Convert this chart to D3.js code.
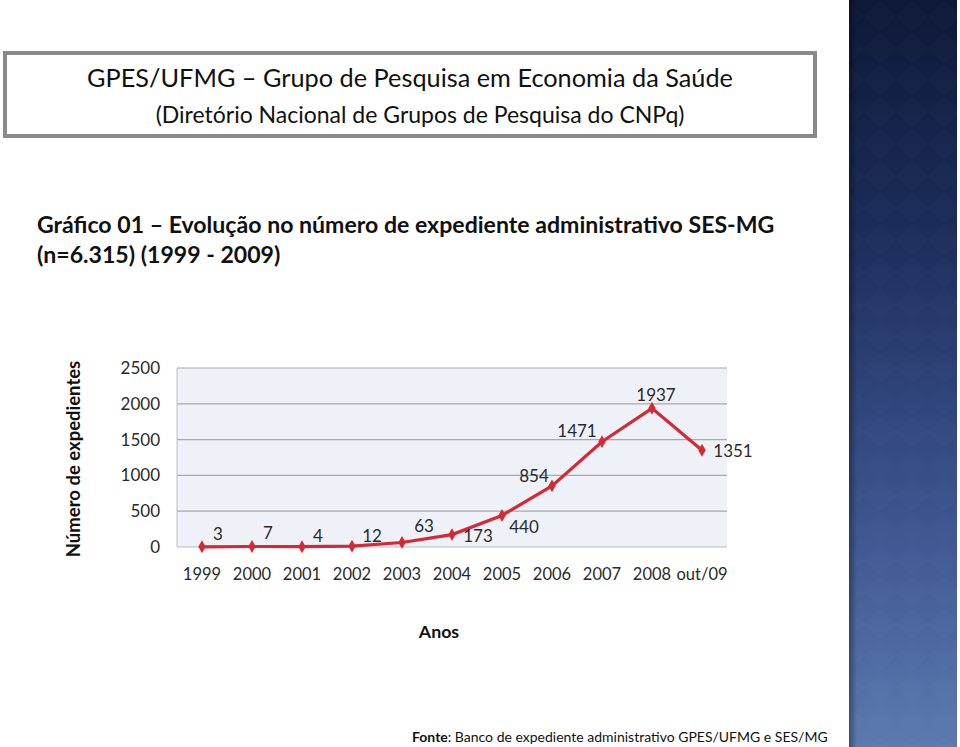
<!DOCTYPE html>
<html><head><meta charset="utf-8">
<script src="https://cdn.jsdelivr.net/npm/d3@7"></script>
<style>body{margin:0;background:#fff}svg{display:block}text{font-family:Lato,"Open Sans",sans-serif}</style>
</head><body>
<svg id="c" width="960" height="747"></svg>
<script>
const categories = ["1999","2000","2001","2002","2003","2004","2005","2006","2007","2008","out/09"];
const values = [3,7,4,12,63,173,440,854,1471,1937,1351];
const yTicks = [0,500,1000,1500,2000,2500];
// label offsets (dx, dy) relative to point
const labelOffsets = [[16,-7],[16,-7],[16,-5],[20,-4],[22,-10],[26,7],[22,18],[-18,-4],[-25,-5],[4,-7],[31,7]];

const FONT = "Lato,'Open Sans',sans-serif";
const svg = d3.select("#c");
const defs = svg.append("defs");
const g1 = defs.append("linearGradient").attr("id","band").attr("x1",0).attr("y1",0).attr("x2",0).attr("y2",1);
g1.append("stop").attr("offset","0%").attr("stop-color","#0e1838");
g1.append("stop").attr("offset","30%").attr("stop-color","#1b2c5a");
g1.append("stop").attr("offset","70%").attr("stop-color","#3d5590");
g1.append("stop").attr("offset","100%").attr("stop-color","#5b79b0");
const pat = defs.append("pattern").attr("id","dia").attr("width",32).attr("height",32).attr("patternUnits","userSpaceOnUse");
pat.append("path").attr("d","M16,0 L32,16 L16,32 L0,16 Z").attr("fill","#ffffff").attr("opacity",0.012);
const g2 = defs.append("linearGradient").attr("id","edge").attr("x1",0).attr("x2",1);
g2.append("stop").attr("offset","0%").attr("stop-color","#000").attr("stop-opacity",0.35);
g2.append("stop").attr("offset","100%").attr("stop-color","#000").attr("stop-opacity",0);

// right decorative band
svg.append("rect").attr("x",849).attr("y",0).attr("width",108).attr("height",747).attr("fill","url(#band)");
svg.append("rect").attr("x",849).attr("y",0).attr("width",108).attr("height",747).attr("fill","url(#dia)");
svg.append("rect").attr("x",849).attr("y",0).attr("width",8).attr("height",747).attr("fill","url(#edge)");

// header box
svg.append("rect").attr("x",5).attr("y",53).attr("width",810).attr("height",83)
  .attr("fill","#fff").attr("stroke","#8a8a8a").attr("stroke-width",4);
svg.append("text").attr("x",410).attr("y",87).attr("text-anchor","middle").attr("font-size",25.3).attr("fill","#111")
  .text("GPES/UFMG – Grupo de Pesquisa em Economia da Saúde");
svg.append("text").attr("x",420).attr("y",123).attr("text-anchor","middle").attr("font-size",23).attr("fill","#111")
  .text("(Diretório Nacional de Grupos de Pesquisa do CNPq)");

svg.append("text").attr("x",37).attr("y",233).attr("font-size",23.1).attr("font-weight","bold").attr("fill","#111")
  .text("Gráfico 01 – Evolução no número de expediente administrativo SES-MG");
svg.append("text").attr("x",37).attr("y",263).attr("font-size",23.1).attr("font-weight","bold").attr("fill","#111")
  .text("(n=6.315) (1999 - 2009)");

// chart
const x = d3.scaleBand().domain(categories).range([177,727]);
const y = d3.scaleLinear().domain([0,2500]).range([547,368]);
svg.append("rect").attr("x",177).attr("y",368).attr("width",550).attr("height",179).attr("fill","#eef2f8");
svg.append("g").selectAll("line").data(yTicks.filter(d=>d>0)).join("line")
  .attr("x1",177).attr("x2",727).attr("y1",d=>y(d)).attr("y2",d=>y(d)).attr("stroke","#a8a8a8").attr("stroke-width",1.2);
svg.append("line").attr("x1",177).attr("x2",177).attr("y1",368).attr("y2",547).attr("stroke","#bdbdbd");
svg.append("line").attr("x1",177).attr("x2",727).attr("y1",547).attr("y2",547).attr("stroke","#bdbdbd");

const ya = d3.axisLeft(y).tickValues(yTicks).tickFormat(d3.format("d")).tickSize(0).tickPadding(17);
const yg = svg.append("g").attr("transform","translate(177,0)").call(ya);
yg.select(".domain").remove();
yg.selectAll("text").attr("font-size",17).attr("fill","#2a2a2a").attr("font-family",FONT);

const xa = d3.axisBottom(x).tickSize(0).tickPadding(21);
const xg = svg.append("g").attr("transform","translate(0,547)").call(xa);
xg.select(".domain").remove();
xg.selectAll("text").attr("font-size",16.5).attr("fill","#2a2a2a").attr("font-family",FONT);

const cx = d => x(d) + x.bandwidth()/2;
const line = d3.line().x((d,i)=>cx(categories[i])).y(d=>y(d));
svg.append("path").datum(values).attr("d",line).attr("fill","none").attr("stroke","#d42a35").attr("stroke-width",3.2);
svg.append("g").selectAll("path").data(values).join("path")
  .attr("d",d3.symbol(d3.symbolDiamond,48))
  .attr("transform",(d,i)=>`translate(${cx(categories[i])},${y(d)})`).attr("fill","#d42a35");
svg.append("g").selectAll("text").data(values).join("text")
  .attr("x",(d,i)=>cx(categories[i])+labelOffsets[i][0]).attr("y",(d,i)=>y(d)+labelOffsets[i][1])
  .attr("text-anchor","middle").attr("font-size",17).attr("fill","#2a2a2a").text(d=>d);

svg.append("text").attr("transform","translate(80,459) rotate(-90)").attr("text-anchor","middle")
  .attr("font-size",18.5).attr("font-weight","bold").attr("fill","#111").text("Número de expedientes");
svg.append("text").attr("x",439).attr("y",638).attr("text-anchor","middle")
  .attr("font-size",17.8).attr("font-weight","bold").attr("fill","#111").text("Anos");

const f = svg.append("text").attr("x",412).attr("y",742).attr("font-size",14).attr("fill","#111");
f.append("tspan").attr("font-weight","bold").text("Fonte");
f.append("tspan").text(":  Banco de expediente administrativo GPES/UFMG e SES/MG");
</script>
</body></html>
